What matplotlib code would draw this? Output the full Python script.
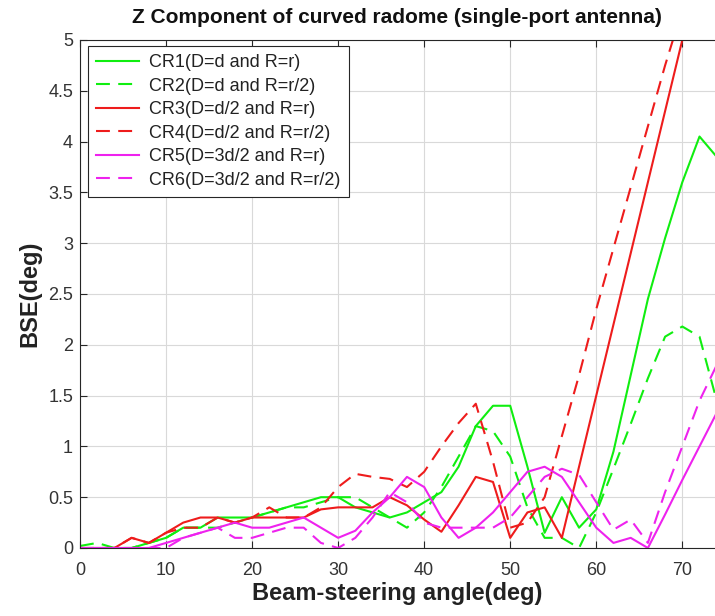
import matplotlib
matplotlib.use("Agg")
import matplotlib.pyplot as plt

angles = [0, 2, 4, 6, 8, 10, 12, 14, 16, 18, 20, 22, 24, 26, 28, 30, 32, 34, 36, 38,
          40, 42, 44, 46, 48, 50, 52, 54, 56, 58, 60, 62, 64, 66, 68, 70, 72, 74]

cr1 = [0, 0, 0, 0, 0.05, 0.1, 0.2, 0.2, 0.3, 0.3, 0.3, 0.35, 0.4, 0.45, 0.5, 0.5, 0.4, 0.35, 0.3, 0.35,
       0.45, 0.55, 0.8, 1.2, 1.4, 1.4, 0.8, 0.15, 0.5, 0.2, 0.38, 0.95, 1.7, 2.45, 3.05, 3.6, 4.05, 3.85]
cr2 = [0.02, 0.05, 0, 0, 0.05, 0.1, 0.2, 0.2, 0.2, 0.25, 0.3, 0.35, 0.4, 0.4, 0.45, 0.5, 0.5, 0.4, 0.3, 0.2,
       0.35, 0.6, 0.9, 1.2, 1.15, 0.9, 0.4, 0.1, 0.1, 0.0, 0.35, 0.78, 1.22, 1.67, 2.08, 2.18, 2.08, 1.45]
cr3 = [0, 0, 0, 0.1, 0.05, 0.15, 0.25, 0.3, 0.3, 0.25, 0.3, 0.3, 0.3, 0.3, 0.38, 0.4, 0.4, 0.4, 0.5, 0.42,
       0.28, 0.16, 0.42, 0.7, 0.65, 0.1, 0.35, 0.4, 0.1, 0.8, 1.5, 2.2, 2.9, 3.6, 4.3, 5.0, 5.7, 6.4]
cr4 = [0, 0, 0, 0.1, 0.05, 0.15, 0.2, 0.2, 0.3, 0.25, 0.3, 0.4, 0.3, 0.3, 0.4, 0.6, 0.73, 0.7, 0.68, 0.6,
       0.75, 1.0, 1.23, 1.42, 0.85, 0.2, 0.25, 0.5, 1.1, 1.7, 2.35, 2.95, 3.55, 4.15, 4.75, 5.3, 5.9, 6.5]
cr5 = [0, 0, 0, 0, 0, 0.05, 0.1, 0.15, 0.2, 0.25, 0.2, 0.2, 0.25, 0.3, 0.2, 0.1, 0.17, 0.35, 0.5, 0.7,
       0.6, 0.3, 0.1, 0.2, 0.35, 0.55, 0.75, 0.8, 0.7, 0.45, 0.2, 0.05, 0.1, 0.0, 0.33, 0.67, 1.0, 1.33]
cr6 = [0, 0, 0, 0, 0, 0, 0.1, 0.15, 0.2, 0.1, 0.1, 0.15, 0.2, 0.2, 0.05, 0.0, 0.1, 0.3, 0.55, 0.45,
       0.25, 0.2, 0.2, 0.2, 0.2, 0.3, 0.5, 0.7, 0.78, 0.72, 0.45, 0.18, 0.28, 0.05, 0.55, 1.0, 1.45, 1.8]

labels = ["CR1(D=d and R=r)", "CR2(D=d and R=r/2)", "CR3(D=d/2 and R=r)",
          "CR4(D=d/2 and R=r/2)", "CR5(D=3d/2 and R=r)", "CR6(D=3d/2 and R=r/2)"]
series = [cr1, cr2, cr3, cr4, cr5, cr6]
colors = ["#10ee10", "#10ee10", "#ee1c1c", "#ee1c1c", "#ee22ee", "#ee22ee"]
styles = ["-", "--", "-", "--", "-", "--"]

plt.rcParams['font.family'] = ['Liberation Sans', 'DejaVu Sans']
plt.rcParams['lines.scale_dashes'] = False

fig = plt.figure(figsize=(7.15, 6.16), dpi=100)
ax = fig.add_axes([80 / 715, 68 / 616, 635 / 715, 508 / 616])

for y, c, ls, lab in zip(series, colors, styles, labels):
    line, = ax.plot(angles, y, color=c, linestyle=ls, linewidth=1.5, label=lab)
    if ls == "--":
        line.set_dashes((10, 6))

ax.set_xlim(0, 73.8)
ax.set_ylim(0, 5)
ax.set_xticks(range(0, 71, 10))
ax.set_yticks([0, 0.5, 1, 1.5, 2, 2.5, 3, 3.5, 4, 4.5, 5])
ax.set_yticklabels(["0", "0.5", "1", "1.5", "2", "2.5", "3", "3.5", "4", "4.5", "5"])
ax.grid(True, color="#d9d9d9", linewidth=0.8)
ax.set_axisbelow(True)
ax.tick_params(direction="in", top=True, right=False, labelsize=13, length=5,
               colors="#262626", labelcolor="#333333")
ax.tick_params(axis="x", pad=10)
ax.tick_params(axis="y", pad=5)
for s in ["left", "bottom", "top"]:
    ax.spines[s].set_color("#262626")
ax.spines["right"].set_visible(False)

ax.set_xlabel("Beam-steering angle(deg)", fontsize=17, fontweight="bold", labelpad=2,
              color="#222222")
ax.set_ylabel("BSE(deg)", fontsize=17, fontweight="bold", labelpad=5, color="#222222")
ax.set_title("Z Component of curved radome (single-port antenna)", fontsize=15,
             fontweight="bold", pad=12, x=(397 - 80) / 635, color="#111111")

leg = ax.legend(loc="upper left", bbox_to_anchor=(0.012, 0.988), fontsize=13,
                frameon=True, fancybox=False, edgecolor="#262626", framealpha=1,
                handlelength=2.4, handletextpad=0.55, borderpad=0.45, labelspacing=0.36,
                borderaxespad=0)
leg.get_frame().set_linewidth(0.8)
for t in leg.get_texts():
    t.set_color("#222222")

fig.savefig("out.png", dpi=100)
